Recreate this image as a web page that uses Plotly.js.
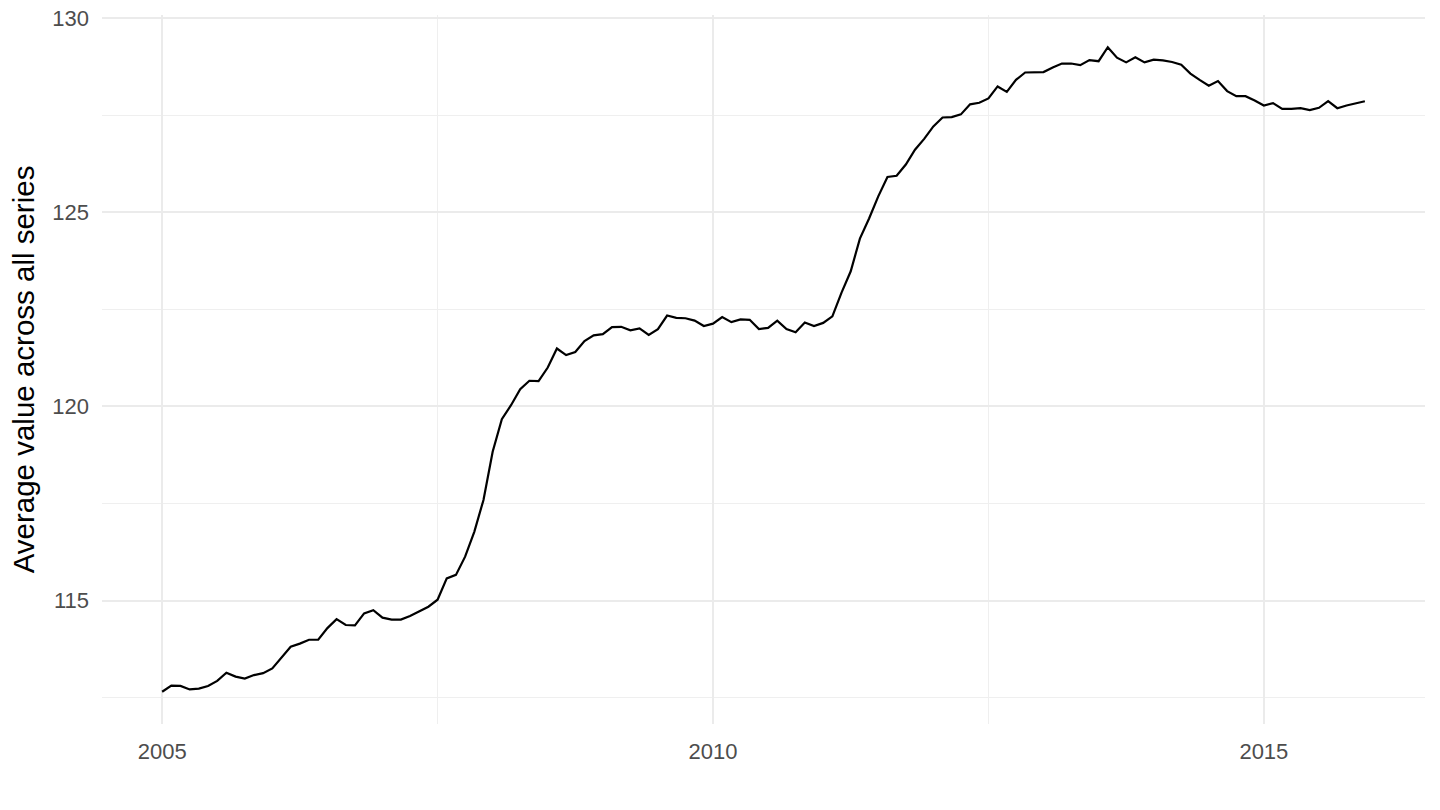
<!DOCTYPE html>
<html>
<head>
<meta charset="utf-8">
<script src="https://cdn.plot.ly/plotly-3.0.1.min.js"></script>
<style>html,body{margin:0;padding:0;background:#fff;}#chart{width:1440px;height:810px;}</style>
</head>
<body>
<div id="chart"></div>
<script>
const years = [2005, 2006, 2007, 2008, 2009, 2010, 2011, 2012, 2013, 2014, 2015];
const v2005 = [112.65, 112.81, 112.80, 112.71, 112.73, 112.80, 112.93, 113.14, 113.04, 112.99, 113.08, 113.13];
const v2006 = [113.25, 113.52, 113.81, 113.89, 113.99, 113.99, 114.29, 114.52, 114.37, 114.36, 114.67, 114.75];
const v2007 = [114.56, 114.51, 114.51, 114.60, 114.71, 114.84, 115.02, 115.57, 115.66, 116.13, 116.77, 117.59];
const v2008 = [118.83, 119.67, 120.03, 120.44, 120.66, 120.65, 121.00, 121.49, 121.32, 121.40, 121.68, 121.83];
const v2009 = [121.86, 122.04, 122.05, 121.96, 122.01, 121.84, 121.99, 122.34, 122.28, 122.27, 122.21, 122.07];
const v2010 = [122.13, 122.30, 122.17, 122.24, 122.23, 121.99, 122.02, 122.21, 121.99, 121.91, 122.16, 122.07];
const v2011 = [122.15, 122.32, 122.93, 123.48, 124.32, 124.84, 125.41, 125.91, 125.94, 126.23, 126.61, 126.89];
const v2012 = [127.21, 127.44, 127.45, 127.52, 127.78, 127.82, 127.93, 128.24, 128.10, 128.41, 128.60, 128.60];
const v2013 = [128.61, 128.73, 128.83, 128.83, 128.79, 128.92, 128.89, 129.25, 128.98, 128.86, 128.99, 128.86];
const v2014 = [128.93, 128.91, 128.87, 128.80, 128.57, 128.41, 128.26, 128.38, 128.12, 127.99, 127.99, 127.88];
const v2015 = [127.75, 127.81, 127.66, 127.66, 127.68, 127.63, 127.69, 127.86, 127.68, 127.75, 127.81, 127.86];
const xTickVals = [2005, 2010, 2015];
const xTickText = ["2005", "2010", "2015"];
const yTickVals = [115, 120, 125, 130];
const yTickText = ["115", "120", "125", "130"];
const yTitle = "Average value across all series";

const byYear = [v2005, v2006, v2007, v2008, v2009, v2010, v2011, v2012, v2013, v2014, v2015];
const x = [], y = [];
years.forEach((yr, i) => {
  byYear[i].forEach((val, m) => { x.push(yr + m / 12); y.push(val); });
});

const xmin = Math.min(...x), xmax = Math.max(...x);
const ymin = Math.min(...y), ymax = Math.max(...y);
const xpad = (xmax - xmin) * 0.05, ypad = (ymax - ymin) * 0.05;

const trace = {
  x: x, y: y, type: 'scatter', mode: 'lines',
  line: {color: '#000000', width: 2.2},
  hoverinfo: 'x+y'
};

const font = {family: 'Liberation Sans, Arial, sans-serif'};
const layout = {
  width: 1440, height: 810,
  margin: {l: 102, r: 15, t: 15, b: 86},
  paper_bgcolor: '#ffffff', plot_bgcolor: '#ffffff',
  showlegend: false,
  font: font,
  xaxis: {
    range: [xmin - xpad, xmax + xpad],
    tickvals: xTickVals, ticktext: xTickText,
    showgrid: true, gridcolor: '#ebebeb', gridwidth: 2,
    minor: {dtick: 2.5, tick0: 2002.5, showgrid: true, gridcolor: '#efefef', gridwidth: 1.2},
    zeroline: false, showline: false, ticks: '',
    ticklabelstandoff: 12,
    tickfont: {family: font.family, size: 22, color: '#4d4d4d'}
  },
  yaxis: {
    range: [ymin - ypad, ymax + ypad],
    tickvals: yTickVals, ticktext: yTickText,
    showgrid: true, gridcolor: '#ebebeb', gridwidth: 2,
    minor: {dtick: 2.5, tick0: 112.5, showgrid: true, gridcolor: '#efefef', gridwidth: 1.2},
    zeroline: false, showline: false, ticks: '',
    ticklabelstandoff: 12,
    tickfont: {family: font.family, size: 22, color: '#4d4d4d'},
    title: {text: yTitle, font: {family: font.family, size: 29.5, color: '#000000'}, standoff: 8}
  }
};

Plotly.newPlot('chart', [trace], layout, {displayModeBar: false, staticPlot: true});
</script>
</body>
</html>
